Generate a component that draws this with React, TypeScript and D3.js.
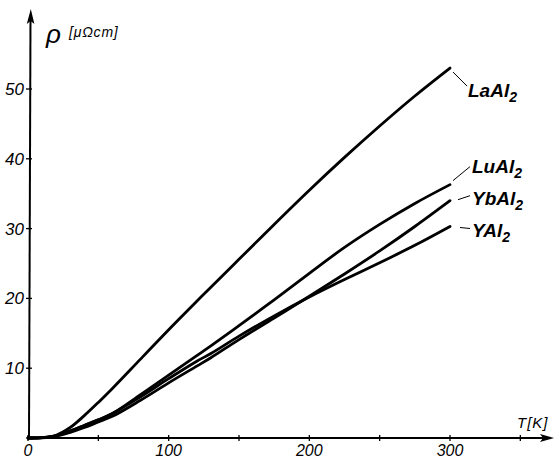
import React from 'react';
import * as d3 from 'd3';

// temperature grid (K)
const temps = [0, 10, 20, 30, 40, 50, 60, 80, 100, 120, 130, 150, 175, 200, 225, 250, 275, 300];

// resistivity in µΩcm
const laAl2 = [0, 0.05, 0.4, 1.5, 3.2, 5.1, 7.1, 11.3, 15.5, 19.6, 21.6, 25.6, 30.6, 35.5, 40.2, 44.7, 49.0, 53.0];
const luAl2 = [0, 0.05, 0.35, 1.0, 1.8, 2.6, 3.5, 6.2, 9.0, 11.8, 13.2, 16.1, 19.8, 23.6, 27.3, 30.6, 33.6, 36.3];
const ybAl2 = [0, 0.03, 0.25, 0.8, 1.5, 2.3, 3.1, 5.4, 7.9, 10.3, 11.5, 14.1, 17.2, 20.3, 23.5, 26.8, 30.3, 34.0];
const yAl2 = [0, 0.04, 0.3, 1.0, 1.8, 2.6, 3.5, 5.9, 8.5, 11.0, 12.1, 14.6, 17.5, 20.2, 22.7, 25.1, 27.6, 30.3];

const seriesNames = ['La', 'Lu', 'Yb', 'Y'];
const seriesValues = [laAl2, luAl2, ybAl2, yAl2];

const xTicks = [0, 50, 100, 150, 200, 250, 300, 350];
const xTickLabels = ['0', '', '100', '', '200', '', '300', ''];
const yTicks = [10, 20, 30, 40, 50];

const W = 557;
const H = 463;
const FONT = '"Liberation Sans", Arial, sans-serif';

// where each label sits relative to the curve's end point: [leader start dx, dy, leader end dx, dy, text dx, text baseline dy]
const labelPlace: Record<string, number[]> = {
  La: [3, 4, 17, 18, 18, 29],
  Lu: [3, -4, 20, -18, 22, -12],
  Yb: [8, -1, 20, -5, 22, 4],
  Y: [10, 1, 20, 2, 22, 10],
};

export default function App() {
  const x = d3.scaleLinear().domain([0, 300]).range([28, 450]);
  const y = d3.scaleLinear().domain([0, 50]).range([438, 89]);

  const line = d3
    .line<[number, number]>()
    .x(d => x(d[0]))
    .y(d => y(d[1]))
    .curve(d3.curveCatmullRom.alpha(0.5));

  const axisX = 29;
  const axisY = y(0);

  return (
    <div style={{ position: 'absolute', left: 0, top: 0 }}>
      <svg width={W} height={H} style={{ display: 'block', background: '#fff' }}>
        {/* axes */}
        <line x1={axisX} y1={axisY} x2={547} y2={axisY} stroke="#000" strokeWidth={2} />
        <path d={`M554,${axisY} L540,${axisY - 4} L543,${axisY} L540,${axisY + 4} Z`} fill="#000" />
        <line x1={axisX} y1={axisY} x2={axisX + 1.5} y2={18} stroke="#000" strokeWidth={2} />
        <path d={`M${axisX + 1.8},9 L${axisX - 2.2},24 L${axisX + 1.6},21 L${axisX + 5.4},24 Z`} fill="#000" />

        {xTicks.map((t, i) => (
          <g key={'xt' + t}>
            <line x1={x(t)} x2={x(t)} y1={axisY - 3} y2={axisY + 3} stroke="#000" strokeWidth={1.3} />
            {xTickLabels[i] && (
              <text
                x={x(t)}
                y={456}
                textAnchor="middle"
                fontFamily={FONT}
                fontStyle="italic"
                fontSize={16}
              >
                {xTickLabels[i]}
              </text>
            )}
          </g>
        ))}

        {yTicks.map(t => (
          <g key={'yt' + t}>
            <line x1={axisX - 3} x2={axisX + 3} y1={y(t)} y2={y(t)} stroke="#000" strokeWidth={1.3} />
            <text
              x={24}
              y={y(t) + 6}
              textAnchor="end"
              fontFamily={FONT}
              fontStyle="italic"
              fontSize={17}
            >
              {t}
            </text>
          </g>
        ))}

        <text x={517} y={428} fontFamily={FONT} fontStyle="italic" fontSize={15} letterSpacing={1}>
          T[K]
        </text>
        <text x={46} y={43} fontFamily={FONT} fontStyle="italic" fontSize={26}>
          ρ
        </text>
        <text x={69} y={37} fontFamily={FONT} fontStyle="italic" fontSize={14} letterSpacing={0.8}>
          [μΩcm]
        </text>

        {/* curves */}
        {seriesValues.map((vals, si) => {
          const pts = temps.map((t, i) => [t, vals[i]] as [number, number]);
          return (
            <path
              key={seriesNames[si]}
              d={line(pts) || ''}
              fill="none"
              stroke="#000"
              strokeWidth={2.8}
              strokeLinecap="round"
            />
          );
        })}

        {/* labels */}
        {seriesValues.map((vals, si) => {
          const name = seriesNames[si];
          const ex = x(temps[temps.length - 1]);
          const ey = y(vals[vals.length - 1]);
          const p = labelPlace[name];
          return (
            <g key={'lab' + name}>
              <line
                x1={ex + p[0]}
                y1={ey + p[1]}
                x2={ex + p[2]}
                y2={ey + p[3]}
                stroke="#000"
                strokeWidth={1}
              />
              <text
                x={ex + p[4]}
                y={ey + p[5]}
                fontFamily={FONT}
                fontStyle="italic"
                fontWeight="bold"
                fontSize={19}
              >
                {name}Al
                <tspan fontSize={14} dy={5}>
                  2
                </tspan>
              </text>
            </g>
          );
        })}
      </svg>
    </div>
  );
}
